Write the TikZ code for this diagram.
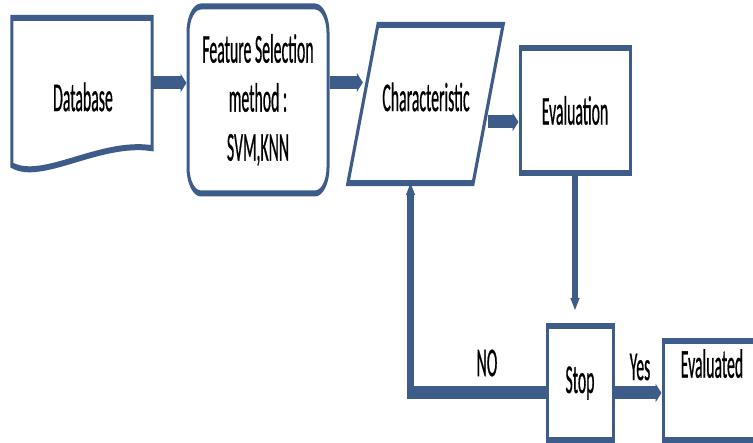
\documentclass[tikz,border=0pt]{standalone}
\usepackage{fontspec}
\setmainfont{Carlito}[FakeStretch=0.77,FakeBold=0.8]
\usetikzlibrary{arrows.meta,positioning}
\definecolor{flowblue}{HTML}{3E5C8A}
\tikzset{
  blk/.style={draw=flowblue, line width=6pt, fill=white, inner sep=0pt, align=center, text=black},
  txt/.style={inner sep=0pt, text=black},
  conn/.style={draw=flowblue, line width=13pt, -{Triangle[length=12pt,width=18pt]}},
}
\begin{document}
\begin{tikzpicture}[x=1pt,y=-1pt]
  \path[use as bounding box] (0,0) rectangle (753,443);
  \fill[white] (0,0) rectangle (753,443);
  \clip (0,0) rectangle (753,443);
  \begin{scope}[x=2pt, transform canvas={xscale=0.5}, font=\fontsize{41}{49}\selectfont]
    \node[minimum width=280pt, minimum height=130pt, inner sep=0pt] (db) at (82,83) {};
    \draw[draw=flowblue, line width=6pt, fill=white] (db.north west) -- (db.north east) -- (db.south east)
      .. controls +(-52,-8) and +(30,17) .. ([yshift=-17pt]db.south west) -- cycle;
    \node[txt] (dbtxt) at (83,97) {Database};
    \node[blk, rounded corners=26pt, minimum width=280pt, minimum height=187pt] (fs) at (258,100)
      {Feature Selection\\method :\\SVM,KNN};
    \node[minimum width=310pt, minimum height=158pt, inner sep=0pt] (ch) at (425.5,104) {};
    \draw[draw=flowblue, line width=6pt, fill=white] (ch.south west) -- ([xshift=60pt]ch.north west)
      -- (ch.north east) -- ([xshift=-60pt]ch.south east) -- cycle;
    \node[txt] (chtxt) at (426,97) {Characteristic};
    \coordinate (chl) at ([xshift=30pt]ch.west);
    \coordinate (chr) at ([xshift=-30pt]ch.east);
    \coordinate (chb) at ([xshift=-30pt]ch.south);
    \node[blk, minimum width=220pt, minimum height=125pt] (ev) at (575,110.5) {Evaluation};
    \node[blk, minimum width=132pt, minimum height=114pt] (st) at (580,383) {Stop};
    \node[blk, minimum width=196pt, minimum height=99pt] (evd) at (712,390.5) {};
    \node[txt, below=11pt of evd.north] (evdtxt) {Evaluated};

    \draw[conn] (db.east) -- (db.east -| fs.west);
    \draw[conn] ([yshift=17.5pt]fs.east) -- ([yshift=17.5pt]fs.east -| chl);
    \draw[conn] ([yshift=-18pt]chr) -- ([yshift=-18pt]chr -| ev.west);
    \draw[conn, shorten >=13pt] (ev.south) -- (ev.south |- st.north);
    \draw[conn] ([yshift=-10pt]st.east) -- ([yshift=-10pt]st.east -| evd.west);
    \draw[conn] ([yshift=-10pt]st.west) -| (chb);
    \node[txt] (yes) at (640,367) {Yes};
    \node[txt] (no) at (487,363) {NO};
  \end{scope}
\end{tikzpicture}
\end{document}
